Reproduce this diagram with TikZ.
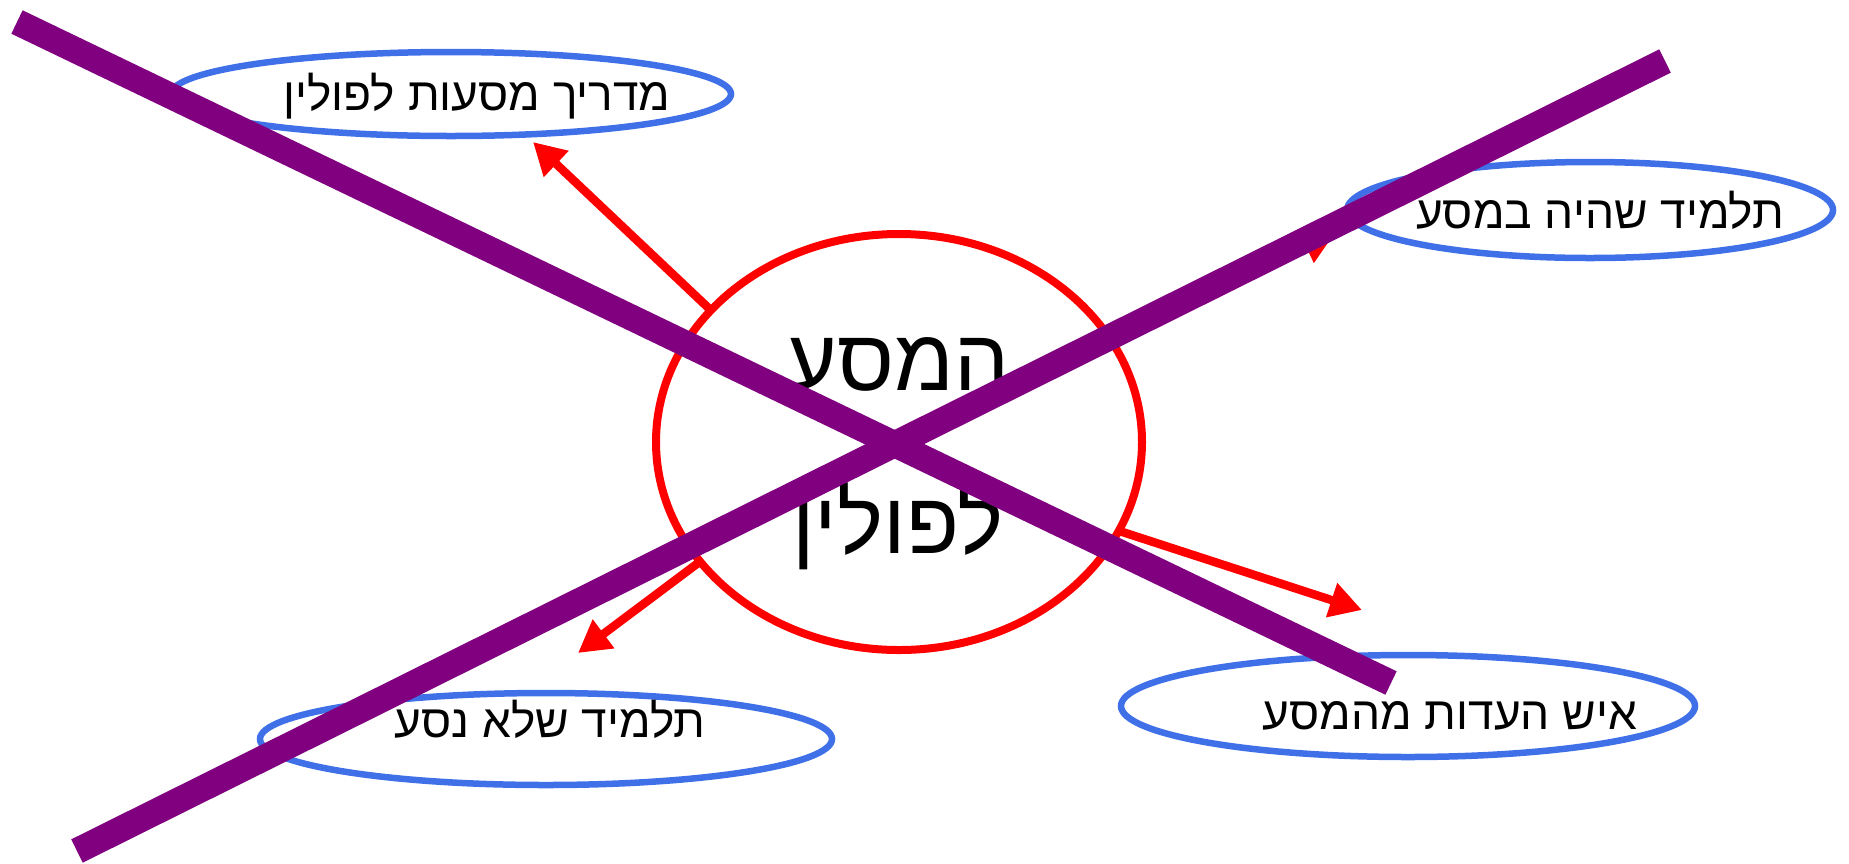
\documentclass[tikz,border=0pt]{standalone}
\usepackage{fontspec}
\usetikzlibrary{shapes.geometric,arrows.meta}
\TeXXeTstate=1
\newfontfamily\heb[Script=Hebrew]{Liberation Sans}
\definecolor{redc}{RGB}{255,0,0}
\definecolor{bluec}{RGB}{64,112,232}
\definecolor{purp}{RGB}{128,0,128}
\tikzset{
  redell/.style={ellipse, draw=redc, line width=8pt, inner sep=0pt, outer sep=0pt},
  blueell/.style={ellipse, draw=bluec, line width=6.5pt, inner sep=0pt, outer sep=0pt},
  lbl/.style={font=\heb\fontsize{46}{54}\selectfont, inner sep=0pt, anchor=base},
  bigtxt/.style={font=\heb\fontsize{87}{100}\selectfont, inner sep=0pt, anchor=base},
  arr/.style={draw=redc, line width=8.5pt, -{Triangle[length=32pt,width=34pt]}},
  crossline/.style={draw=purp, line width=26pt},
}
\begin{document}
\begin{tikzpicture}[x=1pt,y=-1pt]
\useasboundingbox[fill=white] (0,0) rectangle (1849,863);
% central ellipse
\node[redell, minimum width=486pt, minimum height=416pt] (c) at (899,442) {};
% blue ellipses
\node[blueell, minimum width=560pt, minimum height=84pt] (e1) at (451,94) {};
\node[blueell, minimum width=486pt, minimum height=96pt] (e2) at (1590,210) {};
\node[blueell, minimum width=572pt, minimum height=92pt] (e3) at (546,739) {};
\node[blueell, minimum width=574pt, minimum height=102pt] (e4) at (1408,706) {};
% arrow end points
\coordinate (a1) at (533,142);
\coordinate (a2) at (1362,610);
\coordinate (a3) at (578,653);
\coordinate (a4) at (1335,233);
\draw[arr] (c.145.9) -- (a1);
\draw[arr] (c.-22.6) -- (a2);
\draw[arr] (c.211.7) -- (a3);
\draw[arr] (c.26.3) -- (a4);
% texts
\node[lbl] (t1) at (477,110) {\beginR מדריך מסעות לפולין\endR};
\node[lbl] (t2) at (1600,228) {\beginR תלמיד שהיה במסע\endR};
\node[lbl] (t3) at (550,737) {\beginR תלמיד שלא נסע\endR};
\node[lbl] (t4) at (1450,729) {\beginR איש העדות מהמסע\endR};
\node[bigtxt] (c1) at (898,390) {\beginR המסע\endR};
\node[bigtxt] (c2) at (898,553) {\beginR לפולין\endR};
% crossing lines
\coordinate (pa) at (17,22);
\coordinate (pb) at (1391,683);
\coordinate (pc) at (77,851);
\coordinate (pd) at (1665,61);
\draw[crossline] (pa) -- (pb);
\draw[crossline] (pc) -- (pd);
\end{tikzpicture}
\end{document}
